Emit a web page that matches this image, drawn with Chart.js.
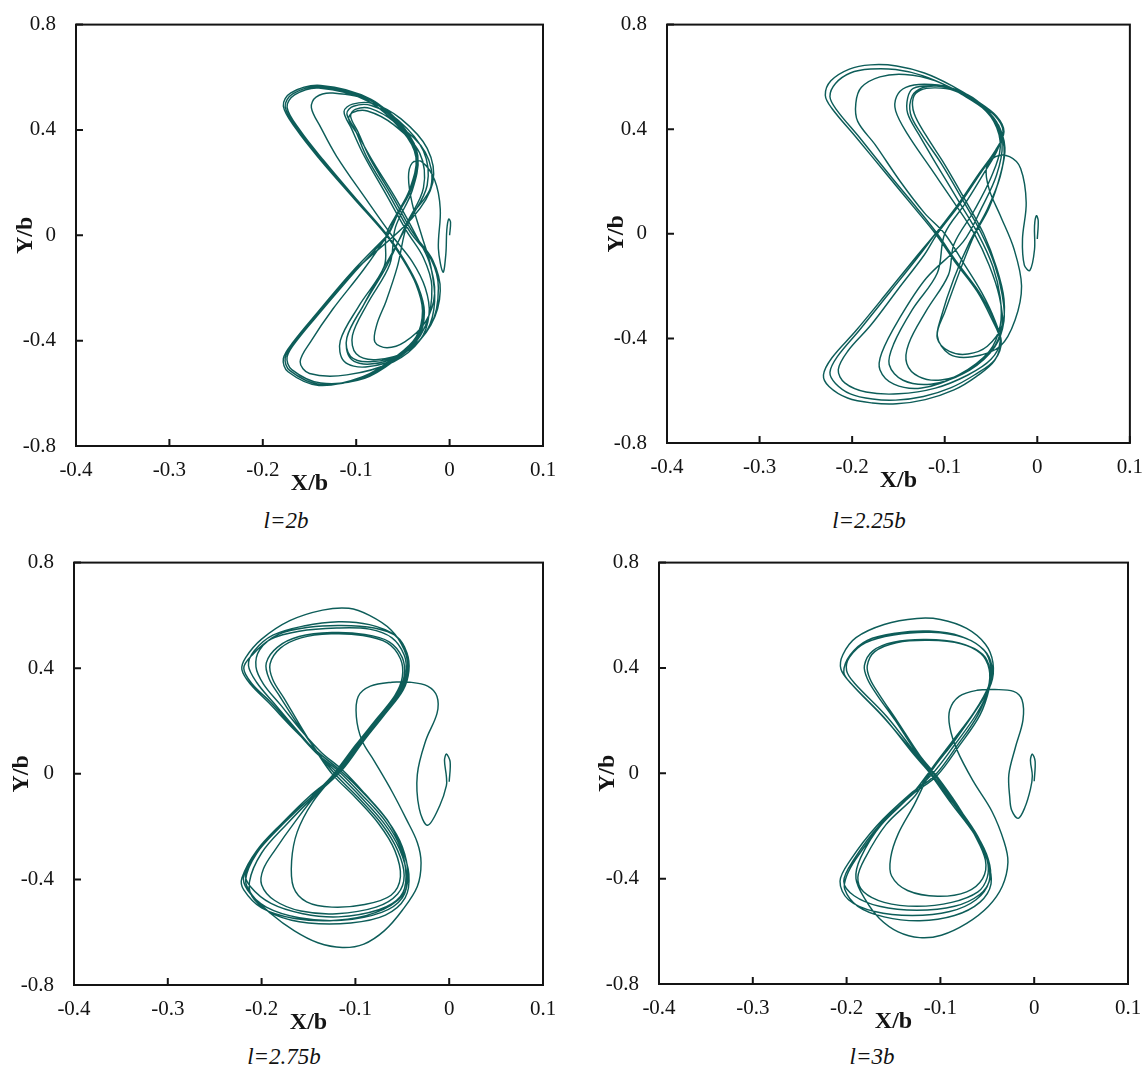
<!DOCTYPE html>
<html>
<head>
<meta charset="utf-8">
<script src="https://cdn.jsdelivr.net/npm/chart.js@4.4.1/dist/chart.umd.min.js"></script>
<style>
  body { margin: 0; background: #fff; width: 1147px; height: 1071px; position: relative; overflow: hidden; }
  canvas { position: absolute; }
  .cap { position: absolute; width: 200px; text-align: center; font-family: "Liberation Serif", "Times New Roman", "DejaVu Serif", serif; font-style: italic; font-size: 23px; line-height: 24px; color: #111; }
</style>
</head>
<body>
<canvas id="c1" width="573" height="500" style="left:0;top:0"></canvas>
<canvas id="c2" width="556" height="497" style="left:591px;top:0"></canvas>
<canvas id="c3" width="573" height="501" style="left:0;top:538px"></canvas>
<canvas id="c4" width="564" height="500" style="left:583px;top:538px"></canvas>
<div class="cap" style="left:186px;top:509px">l=2b</div>
<div class="cap" style="left:769px;top:509px">l=2.25b</div>
<div class="cap" style="left:184px;top:1045px">l=2.75b</div>
<div class="cap" style="left:772px;top:1045px">l=3b</div>
<script>
// axis ticks shared by all four plots
const xTicks = [-0.4, -0.3, -0.2, -0.1, 0, 0.1];
const xTickLabels = ["-0.4", "-0.3", "-0.2", "-0.1", "0", "0.1"];
const yTicks = [-0.8, -0.4, 0, 0.4, 0.8];
const yTickLabels = ["-0.8", "-0.4", "0", "0.4", "0.8"];

// ---- l = 2b : trajectory (X/b, Y/b), one array per lap ----
const p1Start = [[0.000,0.000],[0.001,0.050],[-0.001,0.062],[-0.003,0.020],[-0.004,-0.070],[-0.007,-0.140],[-0.012,-0.050],[-0.010,0.100],[-0.016,0.210],[-0.030,0.280],[-0.040,0.275],[-0.044,0.220],[-0.040,0.120],[-0.030,0.000],[-0.020,-0.120],[-0.016,-0.250],[-0.024,-0.360],[-0.050,-0.450],[-0.085,-0.480],[-0.106,-0.460],[-0.110,-0.389],[-0.092,-0.264],[-0.067,-0.114]];
const p1Inner1 = [[-0.042,0.061],[-0.024,0.190],[-0.028,0.320],[-0.055,0.437],[-0.084,0.493],[-0.103,0.490],[-0.110,0.462],[-0.101,0.400],[-0.089,0.299],[-0.064,0.149],[-0.042,0.011],[-0.020,-0.090],[-0.012,-0.200],[-0.020,-0.340],[-0.050,-0.450],[-0.085,-0.489],[-0.106,-0.468],[-0.110,-0.389],[-0.092,-0.264],[-0.067,-0.114],[-0.042,0.061]];
const p1Small = [[-0.046,0.045],[-0.028,0.180],[-0.032,0.312],[-0.060,0.420],[-0.088,0.472],[-0.104,0.466],[-0.108,0.440],[-0.098,0.380],[-0.082,0.280],[-0.056,0.130],[-0.036,0.000],[-0.022,-0.100],[-0.016,-0.220],[-0.026,-0.330],[-0.048,-0.405],[-0.067,-0.427],[-0.080,-0.405],[-0.078,-0.340],[-0.068,-0.250],[-0.056,-0.120],[-0.046,0.045]];
const p1Inner2 = [[-0.044,0.055],[-0.020,0.185],[-0.026,0.315],[-0.058,0.428],[-0.085,0.482],[-0.101,0.478],[-0.106,0.452],[-0.098,0.392],[-0.085,0.290],[-0.060,0.140],[-0.039,0.008],[-0.018,-0.095],[-0.010,-0.210],[-0.020,-0.340],[-0.046,-0.440],[-0.079,-0.472],[-0.100,-0.450],[-0.104,-0.380],[-0.088,-0.260],[-0.064,-0.110],[-0.044,0.055]];
const p1Mid = [[-0.058,0.030],[-0.040,0.170],[-0.034,0.300],[-0.048,0.405],[-0.080,0.505],[-0.125,0.540],[-0.143,0.525],[-0.148,0.485],[-0.138,0.410],[-0.121,0.300],[-0.090,0.140],[-0.062,0.000],[-0.040,-0.100],[-0.026,-0.200],[-0.022,-0.300],[-0.032,-0.400],[-0.060,-0.480],[-0.110,-0.530],[-0.150,-0.525],[-0.160,-0.480],[-0.148,-0.400],[-0.125,-0.280],[-0.092,-0.130],[-0.058,0.030]];
const p1Outer1 = [[-0.067,0.000],[-0.057,0.074],[-0.042,0.174],[-0.035,0.299],[-0.050,0.400],[-0.085,0.512],[-0.139,0.564],[-0.168,0.537],[-0.176,0.488],[-0.162,0.400],[-0.137,0.287],[-0.100,0.136],[-0.067,0.000],[-0.050,-0.089],[-0.035,-0.189],[-0.028,-0.289],[-0.035,-0.390],[-0.057,-0.465],[-0.092,-0.540],[-0.139,-0.566],[-0.171,-0.514],[-0.176,-0.465],[-0.165,-0.400],[-0.139,-0.289],[-0.103,-0.139],[-0.067,0.000]];
const p1Inner3 = [[-0.040,0.066],[-0.018,0.200],[-0.024,0.330],[-0.052,0.442],[-0.082,0.500],[-0.104,0.498],[-0.113,0.470],[-0.105,0.405],[-0.092,0.305],[-0.068,0.155],[-0.046,0.016],[-0.028,-0.085],[-0.019,-0.195],[-0.026,-0.345],[-0.052,-0.458],[-0.090,-0.500],[-0.113,-0.478],[-0.117,-0.400],[-0.097,-0.268],[-0.070,-0.118],[-0.040,0.066]];
const p1Outer2 = [[-0.068,0.000],[-0.058,0.072],[-0.043,0.172],[-0.036,0.296],[-0.051,0.398],[-0.087,0.509],[-0.140,0.559],[-0.166,0.533],[-0.174,0.486],[-0.160,0.398],[-0.135,0.285],[-0.099,0.134],[-0.066,-0.002],[-0.049,-0.091],[-0.034,-0.192],[-0.027,-0.292],[-0.034,-0.394],[-0.056,-0.468],[-0.091,-0.543],[-0.138,-0.561],[-0.169,-0.510],[-0.174,-0.462],[-0.163,-0.397],[-0.137,-0.286],[-0.101,-0.137],[-0.068,0.000]];
const p1Outer3 = [[-0.066,0.002],[-0.056,0.076],[-0.041,0.177],[-0.034,0.302],[-0.049,0.404],[-0.084,0.516],[-0.138,0.569],[-0.170,0.541],[-0.178,0.490],[-0.164,0.402],[-0.139,0.289],[-0.102,0.138],[-0.068,0.001],[-0.051,-0.087],[-0.036,-0.186],[-0.029,-0.286],[-0.036,-0.387],[-0.058,-0.462],[-0.093,-0.537],[-0.140,-0.570],[-0.173,-0.518],[-0.178,-0.468],[-0.167,-0.403],[-0.141,-0.291],[-0.105,-0.141],[-0.066,0.002]];

// ---- l = 2.25b ----
const p2Start = [[0.000,-0.020],[0.001,0.050],[-0.001,0.069],[-0.003,0.030],[-0.003,-0.060],[-0.008,-0.140],[-0.014,-0.120],[-0.016,-0.020],[-0.012,0.120],[-0.018,0.250],[-0.030,0.295],[-0.045,0.295],[-0.055,0.250],[-0.052,0.170],[-0.040,0.070],[-0.025,-0.060],[-0.017,-0.200],[-0.024,-0.330],[-0.040,-0.430],[-0.070,-0.470],[-0.095,-0.460],[-0.108,-0.390],[-0.100,-0.300],[-0.085,-0.150]];
const p2Inner3 = [[-0.070,-0.020],[-0.052,0.100],[-0.040,0.225],[-0.035,0.330],[-0.044,0.428],[-0.064,0.500],[-0.090,0.548],[-0.110,0.558],[-0.126,0.550],[-0.134,0.520],[-0.133,0.460],[-0.120,0.375],[-0.100,0.265],[-0.078,0.130],[-0.058,0.000],[-0.044,-0.130],[-0.036,-0.250],[-0.038,-0.350],[-0.054,-0.430],[-0.075,-0.460],[-0.095,-0.450],[-0.108,-0.400],[-0.104,-0.320],[-0.090,-0.170],[-0.070,-0.020]];
const p2Inner1 = [[-0.073,-0.031],[-0.054,0.094],[-0.040,0.220],[-0.036,0.333],[-0.046,0.433],[-0.065,0.509],[-0.089,0.553],[-0.108,0.565],[-0.124,0.559],[-0.135,0.528],[-0.137,0.459],[-0.125,0.380],[-0.104,0.270],[-0.081,0.132],[-0.061,0.006],[-0.046,-0.119],[-0.038,-0.232],[-0.036,-0.333],[-0.046,-0.433],[-0.073,-0.521],[-0.104,-0.559],[-0.128,-0.546],[-0.141,-0.496],[-0.139,-0.421],[-0.120,-0.295],[-0.096,-0.157],[-0.073,-0.031]];
const p2Inner4 = [[-0.090,-0.040],[-0.068,0.090],[-0.050,0.215],[-0.040,0.330],[-0.047,0.430],[-0.067,0.505],[-0.093,0.555],[-0.116,0.566],[-0.134,0.556],[-0.140,0.520],[-0.140,0.460],[-0.128,0.380],[-0.108,0.260],[-0.085,0.125],[-0.064,0.000],[-0.048,-0.125],[-0.040,-0.245],[-0.040,-0.350],[-0.052,-0.450],[-0.085,-0.540],[-0.125,-0.590],[-0.155,-0.575],[-0.170,-0.520],[-0.168,-0.455],[-0.150,-0.330],[-0.120,-0.170],[-0.090,-0.040]];
const p2Inner2 = [[-0.080,-0.030],[-0.060,0.100],[-0.044,0.225],[-0.038,0.340],[-0.048,0.440],[-0.068,0.512],[-0.095,0.560],[-0.122,0.572],[-0.142,0.560],[-0.152,0.525],[-0.153,0.470],[-0.140,0.380],[-0.115,0.250],[-0.090,0.120],[-0.068,0.000],[-0.052,-0.120],[-0.041,-0.240],[-0.038,-0.350],[-0.050,-0.450],[-0.080,-0.535],[-0.115,-0.575],[-0.145,-0.560],[-0.160,-0.500],[-0.155,-0.420],[-0.135,-0.290],[-0.108,-0.150],[-0.080,-0.030]];
const p2Mid = [[-0.100,0.000],[-0.078,0.115],[-0.058,0.230],[-0.042,0.330],[-0.040,0.400],[-0.055,0.470],[-0.080,0.530],[-0.110,0.585],[-0.143,0.609],[-0.170,0.600],[-0.190,0.560],[-0.196,0.500],[-0.194,0.430],[-0.175,0.340],[-0.148,0.200],[-0.122,0.080],[-0.100,0.000],[-0.080,-0.110],[-0.060,-0.225],[-0.046,-0.330],[-0.040,-0.410],[-0.050,-0.480],[-0.075,-0.540],[-0.110,-0.590],[-0.150,-0.612],[-0.185,-0.605],[-0.208,-0.570],[-0.215,-0.520],[-0.205,-0.450],[-0.180,-0.350],[-0.150,-0.210],[-0.122,-0.080],[-0.100,0.000]];
const p2Outer1 = [[-0.108,0.000],[-0.084,0.112],[-0.062,0.228],[-0.044,0.322],[-0.037,0.392],[-0.046,0.452],[-0.068,0.508],[-0.094,0.560],[-0.124,0.605],[-0.153,0.628],[-0.180,0.630],[-0.202,0.615],[-0.218,0.575],[-0.224,0.525],[-0.217,0.475],[-0.192,0.368],[-0.158,0.218],[-0.130,0.098],[-0.108,0.000],[-0.087,-0.108],[-0.063,-0.222],[-0.048,-0.322],[-0.039,-0.410],[-0.046,-0.482],[-0.068,-0.540],[-0.093,-0.588],[-0.123,-0.622],[-0.153,-0.636],[-0.178,-0.632],[-0.202,-0.612],[-0.218,-0.572],[-0.224,-0.530],[-0.216,-0.470],[-0.192,-0.368],[-0.158,-0.218],[-0.127,-0.080],[-0.108,0.000]];
const p2Outer2 = [[-0.110,0.000],[-0.086,0.110],[-0.064,0.225],[-0.045,0.320],[-0.036,0.390],[-0.044,0.450],[-0.066,0.510],[-0.092,0.566],[-0.122,0.615],[-0.152,0.642],[-0.180,0.646],[-0.203,0.630],[-0.223,0.585],[-0.229,0.530],[-0.222,0.480],[-0.196,0.370],[-0.161,0.220],[-0.133,0.100],[-0.110,0.000],[-0.089,-0.107],[-0.065,-0.220],[-0.050,-0.320],[-0.040,-0.408],[-0.046,-0.484],[-0.066,-0.546],[-0.090,-0.597],[-0.121,-0.634],[-0.152,-0.650],[-0.178,-0.647],[-0.205,-0.628],[-0.225,-0.584],[-0.231,-0.540],[-0.222,-0.475],[-0.196,-0.371],[-0.161,-0.220],[-0.129,-0.080],[-0.110,0.000]];

// ---- l = 2.75b ----
const p3Start = [[0.000,-0.030],[0.001,0.045],[-0.003,0.075],[-0.005,0.050],[-0.003,-0.010],[-0.003,-0.045],[-0.010,-0.120],[-0.023,-0.195],[-0.032,-0.131],[-0.034,-0.003],[-0.025,0.126],[-0.013,0.229],[-0.013,0.293],[-0.023,0.332],[-0.042,0.347],[-0.061,0.347],[-0.084,0.332],[-0.097,0.293],[-0.099,0.216],[-0.093,0.126],[-0.080,0.049],[-0.061,-0.067],[-0.046,-0.170],[-0.034,-0.260],[-0.030,-0.337],[-0.034,-0.427],[-0.050,-0.517],[-0.069,-0.594],[-0.091,-0.645],[-0.114,-0.658],[-0.140,-0.640],[-0.165,-0.595],[-0.190,-0.530],[-0.210,-0.460],[-0.217,-0.400],[-0.205,-0.300],[-0.178,-0.190],[-0.148,-0.082]];
const p3LapA = [[-0.118,0.010],[-0.095,0.120],[-0.072,0.220],[-0.052,0.310],[-0.046,0.383],[-0.048,0.450],[-0.061,0.515],[-0.085,0.548],[-0.120,0.552],[-0.160,0.540],[-0.190,0.510],[-0.210,0.450],[-0.219,0.400],[-0.210,0.340],[-0.190,0.270],[-0.165,0.170],[-0.142,0.080],[-0.118,0.010],[-0.093,-0.080],[-0.068,-0.180],[-0.052,-0.280],[-0.046,-0.388],[-0.052,-0.465],[-0.075,-0.515],[-0.118,-0.542],[-0.156,-0.530],[-0.190,-0.491],[-0.212,-0.427],[-0.217,-0.375],[-0.202,-0.285],[-0.175,-0.183],[-0.145,-0.080],[-0.118,0.010]];
const p3LapF = [[-0.124,-0.004],[-0.100,0.108],[-0.078,0.206],[-0.058,0.296],[-0.050,0.366],[-0.052,0.436],[-0.066,0.496],[-0.092,0.524],[-0.126,0.530],[-0.158,0.515],[-0.180,0.476],[-0.191,0.416],[-0.188,0.356],[-0.176,0.286],[-0.158,0.178],[-0.140,0.076],[-0.124,-0.004],[-0.100,-0.090],[-0.075,-0.190],[-0.058,-0.290],[-0.052,-0.390],[-0.062,-0.460],[-0.090,-0.495],[-0.125,-0.505],[-0.152,-0.485],[-0.166,-0.430],[-0.168,-0.330],[-0.162,-0.220],[-0.146,-0.110],[-0.124,-0.004]];
const p3LapB = [[-0.120,0.005],[-0.097,0.115],[-0.074,0.215],[-0.054,0.305],[-0.045,0.380],[-0.046,0.455],[-0.058,0.525],[-0.085,0.565],[-0.118,0.576],[-0.155,0.560],[-0.188,0.525],[-0.208,0.465],[-0.214,0.410],[-0.205,0.345],[-0.187,0.268],[-0.163,0.168],[-0.141,0.078],[-0.120,0.005],[-0.095,-0.085],[-0.070,-0.185],[-0.053,-0.285],[-0.045,-0.390],[-0.050,-0.470],[-0.072,-0.525],[-0.115,-0.555],[-0.160,-0.545],[-0.195,-0.505],[-0.215,-0.440],[-0.219,-0.385],[-0.205,-0.290],[-0.178,-0.186],[-0.148,-0.082],[-0.120,0.005]];
const p3LapC = [[-0.116,0.012],[-0.093,0.122],[-0.070,0.225],[-0.050,0.320],[-0.044,0.395],[-0.048,0.470],[-0.062,0.545],[-0.085,0.600],[-0.107,0.627],[-0.135,0.620],[-0.170,0.580],[-0.200,0.510],[-0.217,0.440],[-0.221,0.395],[-0.212,0.340],[-0.192,0.268],[-0.166,0.170],[-0.140,0.082],[-0.116,0.012],[-0.090,-0.078],[-0.066,-0.176],[-0.050,-0.276],[-0.044,-0.385],[-0.050,-0.462],[-0.078,-0.525],[-0.120,-0.555],[-0.165,-0.548],[-0.200,-0.508],[-0.219,-0.440],[-0.221,-0.395],[-0.205,-0.290],[-0.178,-0.188],[-0.146,-0.084],[-0.116,0.012]];
const p3LapD = [[-0.122,0.000],[-0.098,0.112],[-0.076,0.210],[-0.056,0.300],[-0.048,0.370],[-0.050,0.440],[-0.064,0.500],[-0.090,0.528],[-0.125,0.535],[-0.160,0.520],[-0.183,0.480],[-0.195,0.420],[-0.192,0.360],[-0.180,0.290],[-0.160,0.180],[-0.140,0.080],[-0.122,0.000],[-0.097,-0.090],[-0.072,-0.190],[-0.055,-0.290],[-0.048,-0.385],[-0.055,-0.455],[-0.078,-0.505],[-0.120,-0.530],[-0.158,-0.520],[-0.186,-0.480],[-0.200,-0.420],[-0.198,-0.360],[-0.185,-0.285],[-0.165,-0.185],[-0.143,-0.085],[-0.122,0.000]];
const p3LapE = [[-0.114,0.015],[-0.091,0.125],[-0.068,0.228],[-0.049,0.318],[-0.043,0.390],[-0.045,0.458],[-0.056,0.520],[-0.080,0.552],[-0.115,0.562],[-0.150,0.555],[-0.182,0.528],[-0.202,0.470],[-0.206,0.405],[-0.198,0.340],[-0.180,0.262],[-0.158,0.165],[-0.136,0.080],[-0.114,0.015],[-0.090,-0.075],[-0.066,-0.175],[-0.051,-0.278],[-0.043,-0.380],[-0.047,-0.470],[-0.068,-0.535],[-0.105,-0.565],[-0.150,-0.565],[-0.185,-0.535],[-0.208,-0.475],[-0.213,-0.410],[-0.200,-0.300],[-0.173,-0.190],[-0.142,-0.078],[-0.114,0.015]];

// ---- l = 3b ----
const p4Start = [[0.000,-0.030],[0.001,0.045],[-0.002,0.073],[-0.004,0.050],[-0.002,-0.010],[-0.004,-0.060],[-0.010,-0.130],[-0.017,-0.171],[-0.024,-0.140],[-0.026,-0.094],[-0.027,-0.004],[-0.020,0.099],[-0.012,0.202],[-0.013,0.279],[-0.022,0.311],[-0.042,0.318],[-0.061,0.315],[-0.080,0.292],[-0.090,0.241],[-0.090,0.176],[-0.082,0.086],[-0.065,-0.030],[-0.045,-0.145],[-0.032,-0.261],[-0.028,-0.338],[-0.034,-0.429],[-0.049,-0.506],[-0.072,-0.570],[-0.099,-0.615],[-0.122,-0.624],[-0.145,-0.602],[-0.165,-0.551],[-0.180,-0.480],[-0.190,-0.400],[-0.185,-0.320],[-0.163,-0.195],[-0.130,-0.080]];
const p4LapA = [[-0.109,-0.004],[-0.084,0.112],[-0.061,0.228],[-0.047,0.331],[-0.046,0.400],[-0.053,0.465],[-0.075,0.515],[-0.110,0.535],[-0.150,0.525],[-0.180,0.495],[-0.197,0.440],[-0.200,0.390],[-0.192,0.344],[-0.157,0.215],[-0.126,0.073],[-0.109,-0.004],[-0.084,-0.120],[-0.061,-0.236],[-0.049,-0.326],[-0.047,-0.400],[-0.058,-0.460],[-0.085,-0.505],[-0.125,-0.520],[-0.165,-0.505],[-0.192,-0.465],[-0.203,-0.410],[-0.192,-0.326],[-0.165,-0.197],[-0.130,-0.081],[-0.109,-0.004]];
const p4LapE = [[-0.104,-0.010],[-0.080,0.104],[-0.058,0.220],[-0.048,0.322],[-0.047,0.392],[-0.055,0.452],[-0.078,0.492],[-0.112,0.505],[-0.147,0.496],[-0.170,0.462],[-0.178,0.408],[-0.175,0.358],[-0.165,0.298],[-0.146,0.198],[-0.122,0.068],[-0.104,-0.010],[-0.082,-0.120],[-0.064,-0.230],[-0.052,-0.330],[-0.055,-0.400],[-0.072,-0.450],[-0.103,-0.467],[-0.135,-0.445],[-0.152,-0.390],[-0.153,-0.320],[-0.145,-0.230],[-0.128,-0.120],[-0.104,-0.010]];
const p4LapB = [[-0.111,0.000],[-0.086,0.118],[-0.063,0.235],[-0.046,0.340],[-0.044,0.420],[-0.052,0.490],[-0.072,0.550],[-0.100,0.584],[-0.125,0.588],[-0.160,0.565],[-0.190,0.515],[-0.204,0.450],[-0.206,0.395],[-0.195,0.340],[-0.160,0.212],[-0.128,0.070],[-0.111,0.000],[-0.086,-0.116],[-0.063,-0.232],[-0.050,-0.330],[-0.048,-0.410],[-0.062,-0.480],[-0.090,-0.525],[-0.130,-0.540],[-0.170,-0.525],[-0.198,-0.480],[-0.207,-0.410],[-0.196,-0.330],[-0.168,-0.200],[-0.132,-0.078],[-0.111,0.000]];
const p4LapC = [[-0.106,-0.008],[-0.082,0.106],[-0.060,0.222],[-0.049,0.325],[-0.048,0.395],[-0.057,0.455],[-0.080,0.495],[-0.115,0.508],[-0.150,0.498],[-0.172,0.465],[-0.181,0.410],[-0.178,0.360],[-0.168,0.300],[-0.148,0.200],[-0.124,0.070],[-0.106,-0.008],[-0.082,-0.124],[-0.060,-0.240],[-0.050,-0.330],[-0.050,-0.395],[-0.060,-0.450],[-0.088,-0.490],[-0.125,-0.505],[-0.160,-0.490],[-0.182,-0.450],[-0.188,-0.395],[-0.180,-0.320],[-0.158,-0.195],[-0.127,-0.085],[-0.106,-0.008]];
const p4LapD = [[-0.112,0.004],[-0.088,0.118],[-0.064,0.232],[-0.048,0.335],[-0.045,0.405],[-0.054,0.470],[-0.078,0.520],[-0.112,0.540],[-0.148,0.532],[-0.178,0.505],[-0.196,0.450],[-0.203,0.385],[-0.195,0.340],[-0.160,0.210],[-0.128,0.076],[-0.112,0.004],[-0.088,-0.116],[-0.064,-0.230],[-0.050,-0.330],[-0.046,-0.420],[-0.058,-0.490],[-0.085,-0.540],[-0.122,-0.560],[-0.160,-0.545],[-0.188,-0.505],[-0.202,-0.440],[-0.200,-0.390],[-0.190,-0.325],[-0.163,-0.195],[-0.130,-0.078],[-0.112,0.004]];

// laps are closed, so drop each lap's closing point before the next one starts
function joinLaps(laps) {
  const pts = [];
  laps.forEach((lap, i) => {
    const part = i < laps.length - 1 ? lap.slice(0, -1) : lap;
    part.forEach(([x, y]) => pts.push({ x, y }));
  });
  return pts;
}

const lineColor = "#0d5d59";
const inkColor = "#141414";
const serif = "'Liberation Serif', 'Times New Roman', serif";

// box border and inward tick marks
const frame = {
  id: "frame",
  afterDatasetsDraw(chart) {
    const { ctx, chartArea: a, scales } = chart;
    ctx.save();
    ctx.strokeStyle = inkColor;
    ctx.lineWidth = 2;
    ctx.strokeRect(a.left, a.top, a.right - a.left, a.bottom - a.top);
    ctx.beginPath();
    scales.x.ticks.forEach((t) => {
      const px = scales.x.getPixelForValue(t.value);
      ctx.moveTo(px, a.bottom);
      ctx.lineTo(px, a.bottom - 7);
    });
    scales.y.ticks.forEach((t) => {
      const py = scales.y.getPixelForValue(t.value);
      ctx.moveTo(a.left, py);
      ctx.lineTo(a.left + 7, py);
    });
    ctx.stroke();
    ctx.restore();
  },
};

function drawPlot(id, laps, yAxisWidth, rightPad, yTitlePad) {
  new Chart(document.getElementById(id), {
    type: "scatter",
    data: {
      datasets: [
        {
          data: joinLaps(laps),
          showLine: true,
          borderColor: lineColor,
          borderWidth: 1.45,
          pointRadius: 0,
          tension: 0.35,
          fill: false,
        },
      ],
    },
    options: {
      responsive: false,
      animation: false,
      layout: { padding: { top: 20, right: rightPad, bottom: 0, left: 0 } },
      plugins: { legend: { display: false }, tooltip: { enabled: false } },
      scales: {
        x: {
          type: "linear",
          min: -0.4,
          max: 0.1,
          afterBuildTicks: (s) => { s.ticks = xTicks.map((v) => ({ value: v })); },
          afterFit: (s) => { s.height = 54; },
          grid: { display: false },
          border: { display: false },
          ticks: {
            padding: 4,
            color: inkColor,
            font: { family: serif, size: 21 },
            maxRotation: 0,
            callback: (v, i) => xTickLabels[i],
          },
          title: {
            display: true,
            text: "X/b",
            color: inkColor,
            font: { family: serif, size: 24, weight: "bold" },
            padding: { top: 0, bottom: 2 },
          },
        },
        y: {
          type: "linear",
          min: -0.8,
          max: 0.8,
          afterBuildTicks: (s) => { s.ticks = yTicks.map((v) => ({ value: v })); },
          afterFit: (s) => { s.width = yAxisWidth; },
          grid: { display: false },
          border: { display: false },
          ticks: {
            padding: 12,
            color: inkColor,
            font: { family: serif, size: 21 },
            callback: (v, i) => yTickLabels[i],
          },
          title: {
            display: true,
            text: "Y/b",
            color: inkColor,
            font: { family: serif, size: 24, weight: "bold" },
            padding: { top: yTitlePad, bottom: 0 },
          },
        },
      },
    },
    plugins: [frame],
  });
}

drawPlot("c1", [p1Start, p1Inner1, p1Small, p1Inner2, p1Mid, p1Outer1, p1Inner3, p1Outer2, p1Outer3], 76, 30, 11);
drawPlot("c2", [p2Start, p2Inner3, p2Inner1, p2Inner4, p2Inner2, p2Mid, p2Outer1, p2Outer2], 76, 16, 11);
drawPlot("c3", [p3Start, p3LapA, p3LapF, p3LapB, p3LapC, p3LapD, p3LapE], 74, 30, 7);
drawPlot("c4", [p4Start, p4LapA, p4LapE, p4LapB, p4LapC, p4LapD], 76, 19, 10);
</script>
</body>
</html>
